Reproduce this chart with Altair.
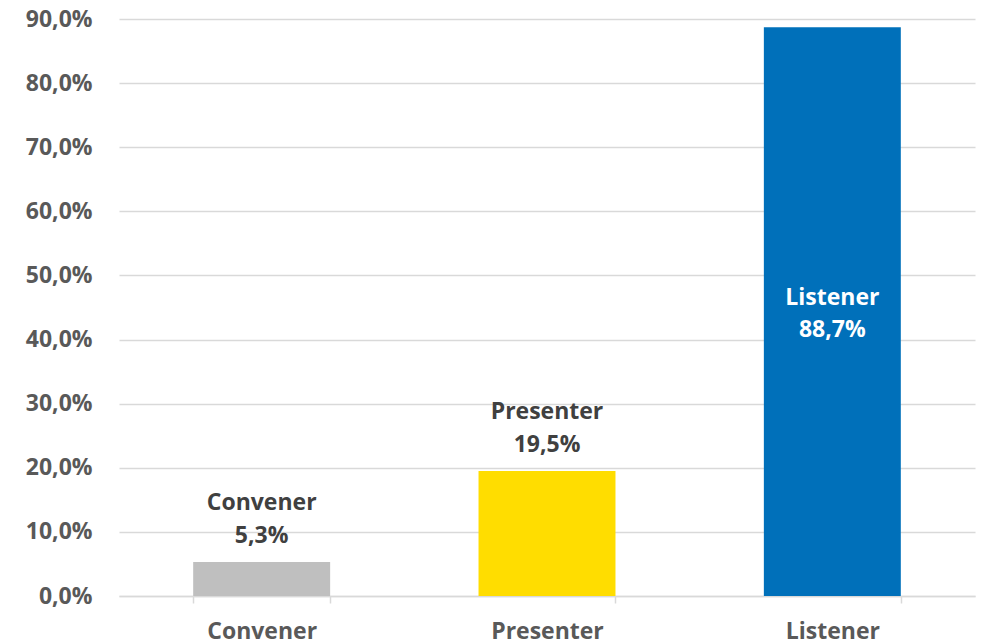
import altair as alt
import pandas as pd

categories = ["Convener", "Presenter", "Listener"]
values = [5.3, 19.5, 88.7]
colors = ["#BFBFBF", "#FFDD00", "#0070BA"]
label_inside = [False, False, True]
y_ticks = [0, 10, 20, 30, 40, 50, 60, 70, 80, 90]

df = pd.DataFrame({"cat": categories, "value": values, "inside": label_inside})

FONT = "Open Sans"
FS = 23

x = alt.X("cat:N", sort=categories, title=None,
          scale=alt.Scale(paddingInner=0.52, paddingOuter=0.26),
          axis=alt.Axis(labelAngle=0, labelFont=FONT, labelFontSize=FS, labelFontWeight="bold",
                        labelColor="#595959", domainColor="#D9D9D9", domainWidth=1.5,
                        tickColor="#D9D9D9", tickWidth=1.5, tickSize=7, tickBand="extent",
                        labelBaseline="alphabetic", labelPadding=35, grid=False))
y = alt.Y("value:Q", title=None,
          scale=alt.Scale(domain=[0, 90], nice=False),
          axis=alt.Axis(values=y_ticks, labelFont=FONT, labelFontSize=FS, labelFontWeight="bold",
                        labelColor="#595959", labelPadding=27, ticks=False, tickSize=0, domain=False,
                        gridColor="#D9D9D9", gridWidth=1.5,
                        labelExpr="replace(format(datum.value, '.1f'), '.', ',') + '%'"))

base = alt.Chart(df)

bars = base.mark_bar().encode(
    x=x, y=y,
    color=alt.Color("cat:N", scale=alt.Scale(domain=categories, range=colors), legend=None),
)

lab = base.transform_calculate(
    pct="replace(format(datum.value, '.1f'), '.', ',') + '%'",
    mid="datum.value / 2",
)

txt_style = dict(font=FONT, fontSize=FS, fontWeight="bold", baseline="alphabetic")

above = lab.transform_filter("!datum.inside")
above_cat = above.mark_text(color="#404040", dy=-52, **txt_style).encode(
    x=alt.X("cat:N", sort=categories), y=alt.Y("value:Q"), text="cat:N")
above_val = above.mark_text(color="#404040", dy=-19, **txt_style).encode(
    x=alt.X("cat:N", sort=categories), y=alt.Y("value:Q"), text="pct:N")

inside = lab.transform_filter("datum.inside")
inside_cat = inside.mark_text(color="#FFFFFF", dy=-7, **txt_style).encode(
    x=alt.X("cat:N", sort=categories), y=alt.Y("mid:Q"), text="cat:N")
inside_val = inside.mark_text(color="#FFFFFF", dy=25, **txt_style).encode(
    x=alt.X("cat:N", sort=categories), y=alt.Y("mid:Q"), text="pct:N")

chart = alt.layer(bars, above_cat, above_val, inside_cat, inside_val).properties(
    width=856, height=577,
    autosize=alt.AutoSizeParams(type="none"),
    padding={"left": 111, "top": 11, "right": 4, "bottom": 48},
    background="#FFFFFF",
).configure_view(stroke=None)

chart.save("out.html", embed_options={"renderer": "svg", "actions": False})
